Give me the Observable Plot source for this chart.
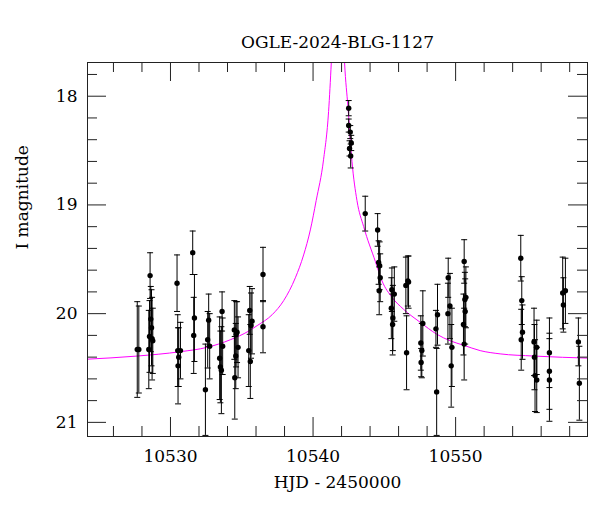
<!DOCTYPE html>
<html>
<head>
<meta charset="utf-8">
<script src="https://cdn.jsdelivr.net/npm/d3@7"></script>
<script src="https://cdn.jsdelivr.net/npm/@observablehq/plot@0.6"></script>
<style>
  html, body { margin: 0; padding: 0; background: #fff; }
</style>
</head>
<body>
<div id="chart"></div>
<script>
// Observations: HJD - 2450000, I magnitude, magnitude error
const hjd = [
  10527.67, 10527.78,
  10528.57, 10528.62, 10528.67, 10528.53, 10528.71, 10528.76, 10528.48,
  10530.46, 10530.51, 10530.70, 10530.58, 10530.53,
  10531.56, 10531.68, 10531.63,
  10532.45, 10532.61, 10532.68, 10532.75,
  10533.45, 10533.50, 10533.57, 10533.62, 10533.66,
  10534.48, 10534.67, 10534.60, 10534.74, 10534.58, 10534.51,
  10535.56, 10535.72, 10535.65, 10535.49, 10535.60,
  10536.49, 10536.49,
  10542.50, 10542.50, 10542.61, 10542.68, 10542.56, 10542.64,
  10543.66,
  10544.53, 10544.60, 10544.67, 10544.71, 10544.64,
  10545.53, 10545.70, 10545.49, 10545.60, 10545.58,
  10546.65, 10546.70, 10546.51, 10546.56,
  10547.70, 10547.56, 10547.63, 10547.58,
  10548.73, 10548.62, 10548.67,
  10549.48, 10549.60, 10549.46, 10549.74, 10549.69,
  10550.60, 10550.72, 10550.65, 10550.67, 10550.55, 10550.60,
  10554.57, 10554.64, 10554.69, 10554.60,
  10555.50, 10555.69, 10555.53, 10555.57, 10555.69,
  10556.58, 10556.58, 10556.58,
  10557.51, 10557.70, 10557.56,
  10558.61, 10558.68
];
const imag = [
  20.33, 20.33,
  19.65, 20.05, 20.13, 20.21, 20.23, 20.25, 20.33,
  19.72, 20.34, 20.34, 20.40, 20.48,
  19.44, 20.04, 20.20,
  20.70, 20.24, 20.06, 20.30,
  20.41, 20.49, 20.52, 19.98, 20.30,
  20.15, 20.17, 20.19, 20.31, 20.39, 20.59,
  19.97, 20.07, 20.11, 20.34, 20.44,
  19.64, 20.12,
  18.11, 18.27, 18.33, 18.43, 18.48, 18.55,
  19.08,
  19.23, 19.53, 19.56, 19.67, 19.79,
  19.78, 19.82, 19.95, 20.04, 20.10,
  19.70, 19.71, 19.74, 20.36,
  20.09, 20.27, 20.34, 20.45,
  20.01, 20.14, 20.72,
  19.67, 19.93, 20.00, 20.31, 20.48,
  19.52, 19.85, 19.87, 19.98, 20.10, 20.28,
  19.49, 19.88, 20.17, 20.24,
  20.26, 20.31, 20.40, 20.57, 20.61,
  20.36, 20.53, 20.61,
  19.81, 19.79, 19.92,
  20.26, 20.64
];
const ierr = [
  0.44, 0.40,
  0.21, 0.30, 0.35, 0.33, 0.38, 0.30, 0.36,
  0.26, 0.33, 0.26, 0.27, 0.35,
  0.20, 0.40, 0.35,
  0.42, 0.26, 0.24, 0.30,
  0.38, 0.33, 0.40, 0.18, 0.26,
  0.27, 0.28, 0.30, 0.28, 0.30, 0.38,
  0.22, 0.30, 0.30, 0.33, 0.34,
  0.25, 0.24,
  0.07, 0.06, 0.06, 0.07, 0.07, 0.11,
  0.16,
  0.15, 0.20, 0.22, 0.22, 0.22,
  0.20, 0.25, 0.28, 0.30, 0.28,
  0.23, 0.24, 0.26, 0.34,
  0.30, 0.25, 0.25, 0.13,
  0.28, 0.17, 0.40,
  0.18, 0.30, 0.28, 0.36, 0.38,
  0.20, 0.28, 0.25, 0.30, 0.28, 0.33,
  0.21, 0.22, 0.25, 0.28,
  0.31, 0.25, 0.30, 0.33, 0.30,
  0.32, 0.35, 0.38,
  0.33, 0.30, 0.25,
  0.22, 0.34
];

// Model light curve
const modelT = [10524.0, 10527.66, 10530.70, 10532.57, 10534.20, 10535.49, 10536.08, 10537.13,
  10537.94, 10538.76, 10539.34, 10539.81, 10540.22, 10540.74, 10541.09, 10541.28, 10541.45, 10541.75,
  10542.05, 10542.21, 10542.45, 10542.73, 10543.08, 10543.55, 10544.37, 10544.84, 10545.54,
  10546.35, 10547.52, 10548.69, 10549.62, 10550.55, 10551.72, 10553.12, 10555.5, 10559.5];
const modelM = [20.42, 20.39, 20.35, 20.31, 20.24, 20.16, 20.11, 20.01,
  19.88, 19.67, 19.46, 19.23, 18.96, 18.58, 18.14, 17.69, 17.2, 16.5,
  17.2, 17.69, 18.10, 18.60, 18.96, 19.20, 19.52, 19.70, 19.85,
  19.96, 20.08, 20.19, 20.25, 20.29, 20.34, 20.37, 20.39, 20.41];

// Axis ticks
const xMajor = [10530, 10540, 10550];
const xMinor = [10526, 10528, 10532, 10534, 10536, 10538, 10542, 10544, 10546, 10548, 10552, 10554, 10556, 10558];
const yMajor = [18, 19, 20, 21];
const yMinor = [17.8, 18.2, 18.4, 18.6, 18.8, 19.2, 19.4, 19.6, 19.8, 20.2, 20.4, 20.6, 20.8];

const title = "OGLE-2024-BLG-1127";
const xLabel = "HJD - 2450000";
const yLabel = "I magnitude";

const obs = hjd.map((t, i) => ({t, m: imag[i], e: ierr[i]}));
const model = modelT.map((t, i) => ({t, m: modelM[i]}));

const W = 600, H = 512, mt = 62, mb = 76, ml = 87, mr = 13;
const ih = H - mt - mb, iw = W - ml - mr;
const majLen = 19, minLen = 10;
const ink = "#222";

const capSymbol = {
  draw(context, size) {
    const r = Math.sqrt(size / Math.PI);
    context.moveTo(-r, 0);
    context.lineTo(r, 0);
  }
};

const chart = Plot.plot({
  width: W, height: H,
  marginTop: mt, marginBottom: mb, marginLeft: ml, marginRight: mr,
  style: {fontFamily: "'DejaVu Serif', serif", fontSize: "17px", color: "#000", background: "#fff"},
  x: {domain: [10524.18, 10559.25]},
  y: {domain: [21.13, 17.69]},
  marks: [
    // model
    Plot.line(model, {x: "t", y: "m", stroke: "#ff00ff", strokeWidth: 1, curve: "monotone-x", clip: true}),
    // error bars
    Plot.ruleX(obs, {x: "t", y1: d => d.m - d.e, y2: d => d.m + d.e, stroke: "#000", strokeWidth: 1, clip: true}),
    Plot.dot(obs, {x: "t", y: d => d.m - d.e, symbol: capSymbol, r: 3, stroke: "#000", strokeWidth: 1, clip: true}),
    Plot.dot(obs, {x: "t", y: d => d.m + d.e, symbol: capSymbol, r: 3, stroke: "#000", strokeWidth: 1, clip: true}),
    Plot.dot(obs, {x: "t", y: "m", r: 2.7, fill: "#000", stroke: "none"}),
    // inward ticks on all sides
    Plot.ruleX(xMajor, {x: d => d, insetTop: ih - majLen, stroke: ink}),
    Plot.ruleX(xMajor, {x: d => d, insetBottom: ih - majLen, stroke: ink}),
    Plot.ruleX(xMinor, {x: d => d, insetTop: ih - minLen, stroke: ink}),
    Plot.ruleX(xMinor, {x: d => d, insetBottom: ih - minLen, stroke: ink}),
    Plot.ruleY(yMajor, {y: d => d, insetRight: iw - majLen, stroke: ink}),
    Plot.ruleY(yMajor, {y: d => d, insetLeft: iw - majLen, stroke: ink}),
    Plot.ruleY(yMinor, {y: d => d, insetRight: iw - minLen, stroke: ink}),
    Plot.ruleY(yMinor, {y: d => d, insetLeft: iw - minLen, stroke: ink}),
    Plot.frame({stroke: ink, strokeWidth: 1}),
    // tick labels
    Plot.axisX(xMajor, {tickSize: 0, tickPadding: 13, label: null, fontSize: 17, tickFormat: d => String(d)}),
    Plot.axisY(yMajor, {tickSize: 0, tickPadding: 10, label: null, fontSize: 17, tickFormat: d => String(d)}),
    // titles
    Plot.text([title], {frameAnchor: "top", dy: -27, fontSize: 17, fill: "#000"}),
    Plot.text([xLabel], {frameAnchor: "bottom", dy: 51, fontSize: 17, fill: "#000"}),
    Plot.text([yLabel], {frameAnchor: "left", dx: -65, rotate: -90, fontSize: 17, fill: "#000"})
  ]
});
document.getElementById("chart").appendChild(chart);
</script>
</body>
</html>
